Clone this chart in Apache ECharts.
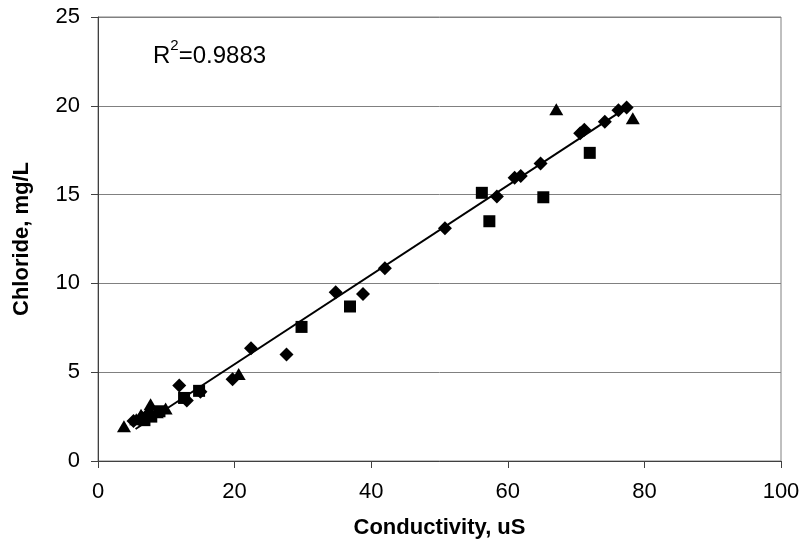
<!DOCTYPE html>
<html>
<head>
<meta charset="utf-8">
<script src="https://cdn.jsdelivr.net/npm/echarts@6/dist/echarts.min.js"></script>
<style>html,body{margin:0;padding:0;background:#fff;}#c{width:805px;height:560px;}</style>
</head>
<body>
<div id="c"></div>
<script>
// Series 1 (diamonds)
const diamondX = [5.2, 6.4, 7.5, 11.9, 13.0, 15.0, 19.7, 22.4, 27.6, 34.8, 38.8, 42.0, 50.8, 58.4, 61.0, 61.9, 64.8, 70.6, 71.2, 74.2, 76.2, 77.4];
const diamondY = [2.25, 2.45, 2.7, 4.25, 3.4, 3.9, 4.6, 6.35, 6.0, 9.5, 9.4, 10.85, 13.1, 14.9, 15.95, 16.05, 16.75, 18.45, 18.65, 19.1, 19.75, 19.9];
// Series 2 (squares)
const squareX = [6.8, 7.8, 9.0, 12.6, 14.8, 29.8, 36.9, 56.2, 57.3, 65.2, 72.0];
const squareY = [2.3, 2.5, 2.8, 3.55, 3.95, 7.55, 8.7, 15.1, 13.5, 14.85, 17.35];
// Series 3 (triangles)
const triangleX = [3.8, 5.6, 6.3, 7.7, 8.6, 9.9, 20.6, 67.1, 78.3];
const triangleY = [1.95, 2.35, 2.6, 3.2, 2.75, 2.95, 4.9, 19.8, 19.3];
// Linear trendline endpoints
const trendX = [5.5, 77.8];
const trendY = [1.8, 20.0];
// Axes
const xTicks = [0, 20, 40, 60, 80, 100];
const yTicks = [0, 5, 10, 15, 20, 25];
const xTitle = 'Conductivity, uS';
const yTitle = 'Chloride, mg/L';
const rLabel = 'R';
const rSup = '2';
const rValue = '=0.9883';

const zip = (xs, ys) => xs.map((x, i) => [x, ys[i]]);
const FONT = '"Liberation Sans", Arial, sans-serif';
const mark = {color: '#000', opacity: 1};

const chart = echarts.init(document.getElementById('c'), null, {renderer: 'canvas'});
chart.setOption({
  backgroundColor: '#fff',
  animation: false,
  grid: {left: 98, right: 24, top: 17, bottom: 99, show: true, borderColor: '#808080', borderWidth: 1},
  xAxis: {
    type: 'value', min: xTicks[0], max: xTicks[xTicks.length - 1], interval: 20,
    name: xTitle, nameLocation: 'middle', nameGap: 56,
    nameTextStyle: {fontFamily: FONT, fontWeight: 'bold', fontSize: 22, color: '#000'},
    axisLine: {show: true, onZero: false, lineStyle: {color: '#404040', width: 1}},
    axisTick: {show: true, inside: false, length: 7, lineStyle: {color: '#404040'}},
    axisLabel: {fontFamily: FONT, fontSize: 22, color: '#000', margin: 20},
    splitLine: {show: false}
  },
  yAxis: {
    type: 'value', min: yTicks[0], max: yTicks[yTicks.length - 1], interval: 5,
    name: yTitle, nameLocation: 'middle', nameGap: 65,
    nameTextStyle: {fontFamily: FONT, fontWeight: 'bold', fontSize: 22, color: '#000'},
    axisLine: {show: true, onZero: false, lineStyle: {color: '#404040', width: 1}},
    axisTick: {show: true, inside: false, length: 7, lineStyle: {color: '#404040'}},
    axisLabel: {fontFamily: FONT, fontSize: 22, color: '#000', margin: 18},
    splitLine: {show: true, lineStyle: {color: '#808080', width: 1}}
  },
  graphic: [{
    type: 'text', left: 153, top: 38,
    style: {
      text: '{r|' + rLabel + '}{s|' + rSup + '}{r|' + rValue + '}',
      rich: {
        r: {fontFamily: FONT, fontSize: 24, fill: '#000', color: '#000', verticalAlign: 'bottom', lineHeight: 30},
        s: {fontFamily: FONT, fontSize: 15, fill: '#000', color: '#000', verticalAlign: 'top', lineHeight: 30, padding: [0, 0, 12, 0]}
      }
    }
  }],
  series: [
    {type: 'line', data: zip(trendX, trendY), symbol: 'none', lineStyle: {color: '#000', width: 2}, z: 2},
    {type: 'scatter', data: zip(diamondX, diamondY), symbol: 'diamond', symbolSize: 14, itemStyle: mark, z: 3},
    {type: 'scatter', data: zip(squareX, squareY), symbol: 'rect', symbolSize: 12, itemStyle: mark, z: 4},
    {type: 'scatter', data: zip(triangleX, triangleY), symbol: 'triangle', symbolSize: [14, 12], itemStyle: mark, z: 5}
  ]
});
</script>
</body>
</html>
